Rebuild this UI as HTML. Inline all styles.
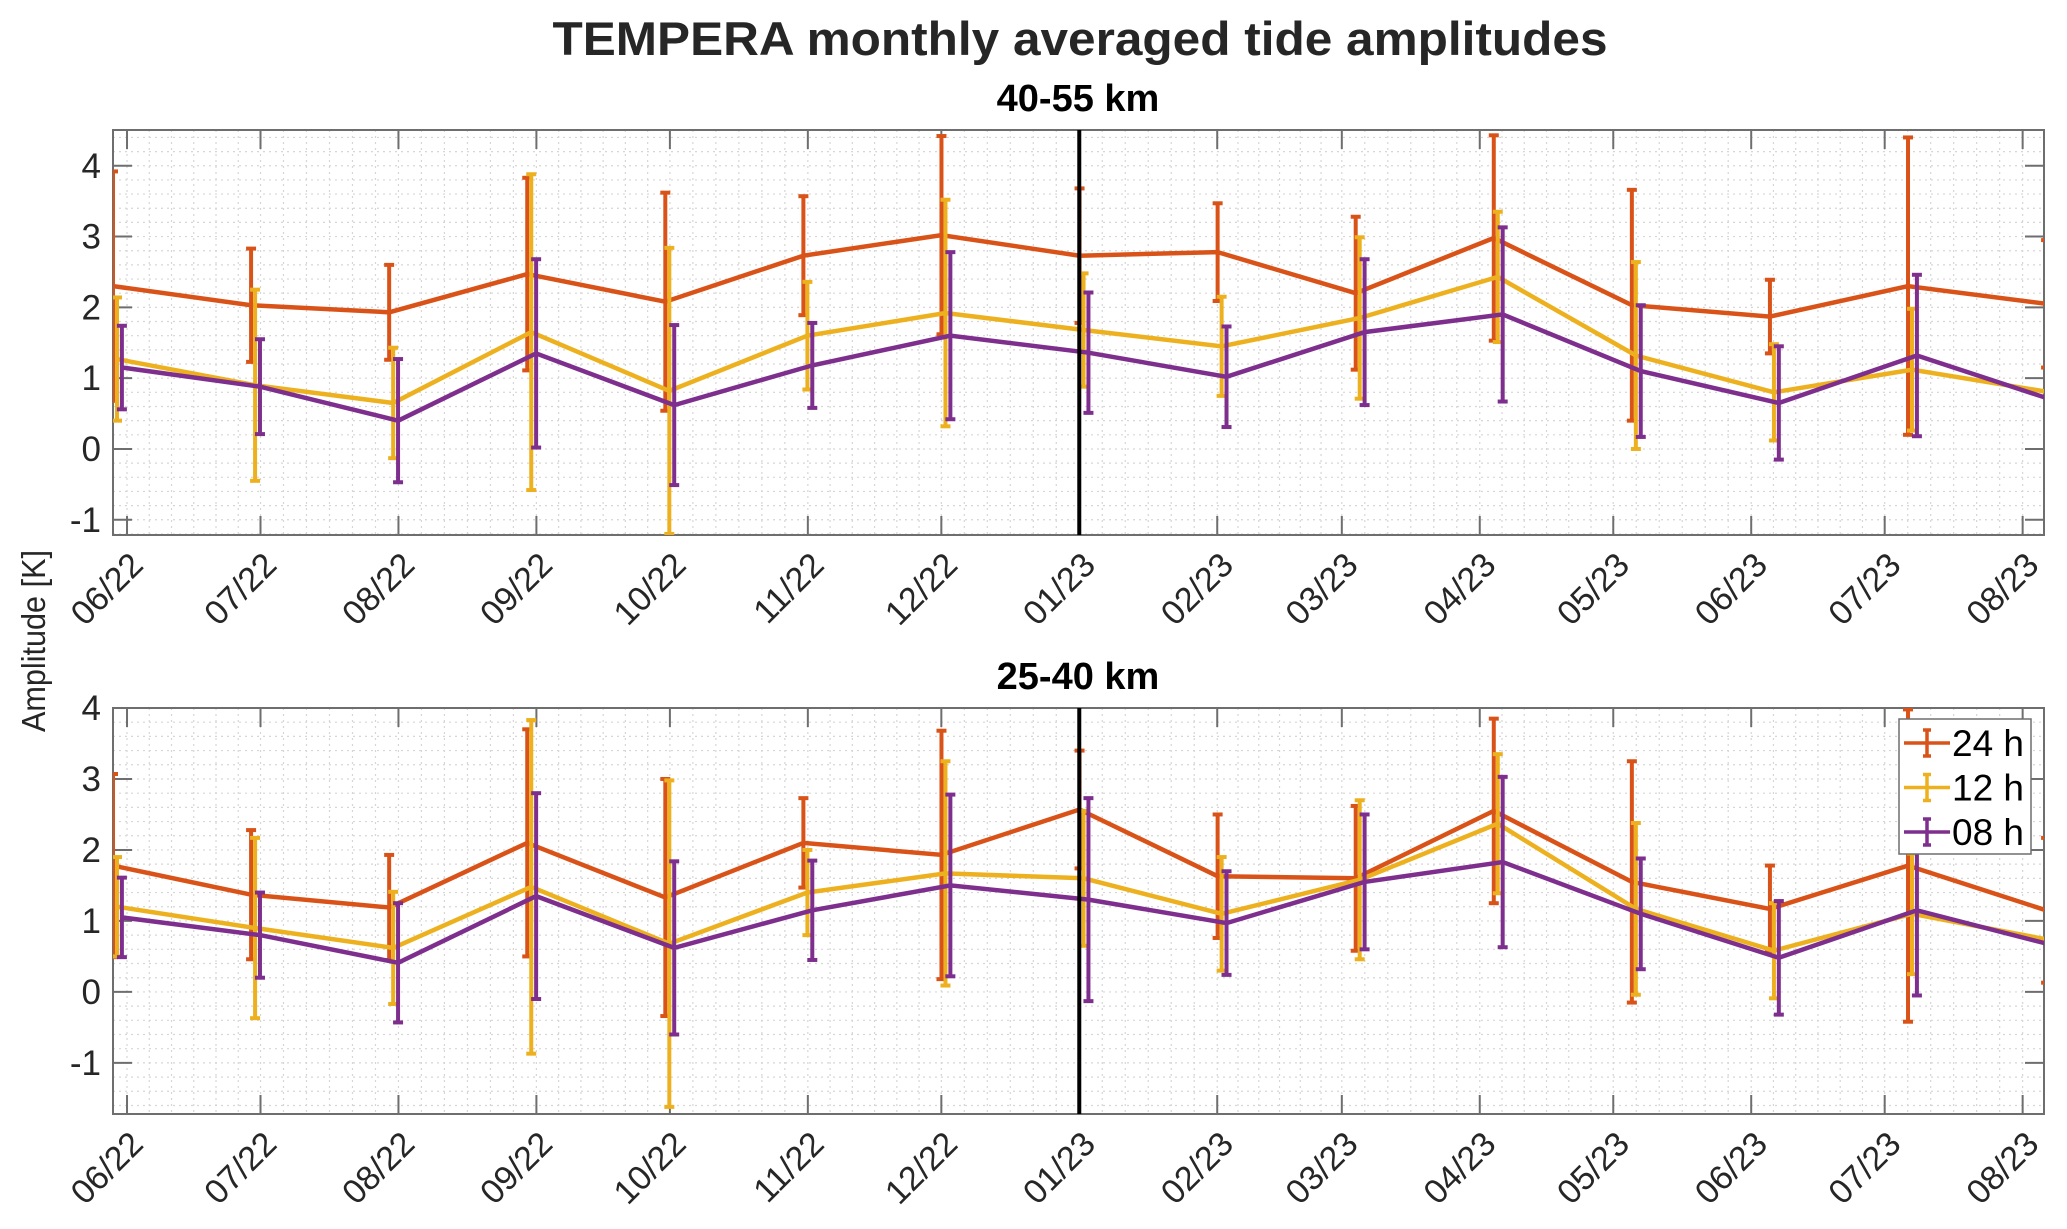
<!DOCTYPE html>
<html><head><meta charset="utf-8"><style>
html,body{margin:0;padding:0;background:#fff;}
svg{display:block;font-family:"Liberation Sans",Arial,sans-serif;}
</style></head><body>
<svg id="chart" width="2067" height="1229" viewBox="0 0 2067 1229" xmlns="http://www.w3.org/2000/svg">
<rect x="0" y="0" width="2067" height="1229" fill="#fff"/>
<text x="1080" y="55" text-anchor="middle" font-size="47" font-weight="bold" fill="#262626" textLength="1055" lengthAdjust="spacingAndGlyphs">TEMPERA monthly averaged tide amplitudes</text>
<text transform="translate(45,641) rotate(-90)" text-anchor="middle" font-size="33" fill="#262626" textLength="182" lengthAdjust="spacingAndGlyphs">Amplitude [K]</text>
<g id="top"></g>
<g id="bottom"></g>
</svg>
<script>
// ---- data ----
const monthLabels = ["06/22","07/22","08/22","09/22","10/22","11/22","12/22","01/23","02/23","03/23","04/23","05/23","06/23","07/23","08/23"];
const monthStartDays = [0,30,61,92,122,153,183,214,245,273,304,334,365,395,426];
const seriesNames = ["24 h","12 h","08 h"];
// upper panel 40-55 km
const top24 = [2.30,2.03,1.93,2.47,2.08,2.73,3.02,2.73,2.78,2.20,2.98,2.03,1.87,2.30,2.05];
const top24Err = [1.62,0.80,0.67,1.36,1.54,0.84,1.40,0.95,0.69,1.08,1.45,1.63,0.52,2.10,0.90];
const top12 = [1.27,0.90,0.65,1.65,0.82,1.60,1.92,1.68,1.45,1.85,2.43,1.32,0.80,1.12,0.80];
const top12Err = [0.87,1.35,0.78,2.23,2.02,0.76,1.60,0.80,0.70,1.14,0.92,1.32,0.68,0.86,0.70];
const top08 = [1.15,0.88,0.40,1.35,0.62,1.18,1.60,1.36,1.02,1.65,1.90,1.10,0.65,1.32,0.68];
const top08Err = [0.59,0.67,0.87,1.33,1.13,0.60,1.18,0.85,0.71,1.03,1.23,0.93,0.80,1.14,0.60];
// lower panel 25-40 km
const bot24 = [1.78,1.37,1.19,2.10,1.33,2.10,1.93,2.57,1.63,1.60,2.55,1.55,1.17,1.78,1.15];
const bot24Err = [1.29,0.91,0.74,1.60,1.67,0.63,1.75,0.83,0.87,1.02,1.30,1.70,0.61,2.20,1.02];
const bot12 = [1.20,0.90,0.62,1.48,0.68,1.40,1.67,1.60,1.10,1.58,2.37,1.17,0.58,1.10,0.73];
const bot12Err = [0.70,1.27,0.79,2.35,2.30,0.60,1.58,0.95,0.80,1.12,0.98,1.21,0.67,0.85,0.60];
const bot08 = [1.05,0.80,0.41,1.35,0.62,1.15,1.50,1.30,0.97,1.55,1.83,1.10,0.48,1.15,0.65];
const bot08Err = [0.56,0.60,0.84,1.45,1.22,0.70,1.28,1.43,0.73,0.95,1.20,0.78,0.80,1.20,0.50];
const yTicksTop = [-1,0,1,2,3,4];
const yTicksBot = [-1,0,1,2,3,4];

const NS="http://www.w3.org/2000/svg";
const colors=["#D95319","#EDB120","#7E2F8E"];
const X0=113, X1=2044;
const dayMin=-3.15, dayMax=430.8;
function xScale(d){return X0+(d-dayMin)/(dayMax-dayMin)*(X1-X0);}
const pointStep=31.03, seriesShift=[0,0.9,2.0];
function pointDay(i,s){return dayMin+i*pointStep+seriesShift[s];}
function mk(tag,attrs,parent){const e=document.createElementNS(NS,tag);for(const k in attrs)e.setAttribute(k,attrs[k]);parent.appendChild(e);return e;}

function panel(g,y0,y1,ymin,ymax,ticks,title,vals,errs,clipId,legend){
  const yS=v=>y1-(v-ymin)/(ymax-ymin)*(y1-y0);
  const defs=mk('defs',{},g);
  const cp=mk('clipPath',{id:clipId},defs);
  mk('rect',{x:X0,y:y0,width:X1-X0,height:y1-y0},cp);
  const grid=mk('g',{},g);
  
  
  for(let v=Math.ceil(ymin*5)/5;v<=ymax;v+=0.2){
    const y=yS(v);
    mk('line',{x1:X0,x2:X1,y1:y,y2:y,stroke:'#d6d6d6','stroke-width':1.2,'stroke-dasharray':'2 4'},grid);
  }
  for(let m=0;m<monthStartDays.length;m++){
    const a=monthStartDays[m], b=m+1<monthStartDays.length?monthStartDays[m+1]:a+31;
    for(let k=-6;k<6;k++){
      const d=a+(b-a)*k/6; const x=xScale(d);
      if(x<X0||x>X1) continue;
      if(k<0 && m>0) continue;
      mk('line',{x1:x,x2:x,y1:y0,y2:y1,stroke:'#d6d6d6','stroke-width':1.2,'stroke-dasharray':'2 4'},grid);
    }
  }
  const box=mk('rect',{x:X0,y:y0,width:X1-X0,height:y1-y0,fill:'none',stroke:'#6e6e6e','stroke-width':2},g);
  
  
  monthStartDays.forEach((d,i)=>{
    const x=xScale(d);
    mk('line',{x1:x,x2:x,y1:y0,y2:y0+19,stroke:'#6e6e6e','stroke-width':2},g);
    mk('line',{x1:x,x2:x,y1:y1,y2:y1-19,stroke:'#6e6e6e','stroke-width':2},g);
    const t=mk('text',{transform:`translate(${x+18},${y1+32}) rotate(-45)`,'text-anchor':'end','font-size':34,fill:'#262626'},g);
    t.textContent=monthLabels[i];
    
    
  });
  ticks.forEach(v=>{
    const y=yS(v);
    mk('line',{x1:X0,x2:X0+19,y1:y,y2:y,stroke:'#6e6e6e','stroke-width':2},g);
    mk('line',{x1:X1,x2:X1-19,y1:y,y2:y,stroke:'#6e6e6e','stroke-width':2},g);
    const t=mk('text',{x:101,y:y+12,'text-anchor':'end','font-size':35,fill:'#262626'},g);
    t.textContent=String(v);
    
    
  });
  const tt=mk('text',{x:1078,y:y0-19,'text-anchor':'middle','font-size':38,'font-weight':'bold',fill:'#000'},g);
  tt.textContent=title;
  
  
  const sg=mk('g',{'clip-path':`url(#${clipId})`},g);
  vals.forEach((arr,s)=>{
    const ser=mk('g',{},sg);
    
    
    arr.forEach((v,i)=>{
      const x=xScale(pointDay(i,s)), e=errs[s][i];
      const yt=yS(v+e), yb=yS(v-e);
      const eb=mk('g',{stroke:colors[s],'stroke-width':4},ser);
      
      
      mk('line',{x1:x,x2:x,y1:yt,y2:yb},eb);
      mk('line',{x1:x-5,x2:x+5,y1:yt,y2:yt},eb);
      mk('line',{x1:x-5,x2:x+5,y1:yb,y2:yb},eb);
    });
    const pts=arr.map((v,i)=>xScale(pointDay(i,s)).toFixed(1)+','+yS(v).toFixed(1)).join(' ');
    const pl=mk('polyline',{points:pts,fill:'none',stroke:colors[s],'stroke-width':4.5,'stroke-linejoin':'miter'},ser);
    
    
  });
  const vx=xScale(monthStartDays[7]);
  const vl=mk('line',{x1:vx,x2:vx,y1:y0,y2:y1,stroke:'#000','stroke-width':4},g);
  
  
  if(legend){
    const lg=mk('g',{},g);
    
    
    mk('rect',{x:1899,y:719,width:132,height:135,fill:'#fff',stroke:'#6e6e6e','stroke-width':1.5},lg);
    seriesNames.forEach((n,s)=>{
      const cy=743+s*44.5;
      const le=mk('g',{stroke:colors[s],'stroke-width':3.5},lg);
      
      
      mk('line',{x1:1904,x2:1950,y1:cy,y2:cy},le);
      mk('line',{x1:1927,x2:1927,y1:cy-13,y2:cy+13},le);
      mk('line',{x1:1923,x2:1931,y1:cy-13,y2:cy-13},le);
      mk('line',{x1:1923,x2:1931,y1:cy+13,y2:cy+13},le);
      const t=mk('text',{x:1952,y:cy+13,'font-size':37,fill:'#000',stroke:'none'},lg);
      t.textContent=n;
    });
  }
}
panel(document.getElementById('top'),130,535,-1.215,4.505,yTicksTop,'40-55 km',[top24,top12,top08],[top24Err,top12Err,top08Err],'clipTop',false);
panel(document.getElementById('bottom'),708,1114,-1.72,4.0,yTicksBot,'25-40 km',[bot24,bot12,bot08],[bot24Err,bot12Err,bot08Err],'clipBot',true);
</script>
</body></html>
